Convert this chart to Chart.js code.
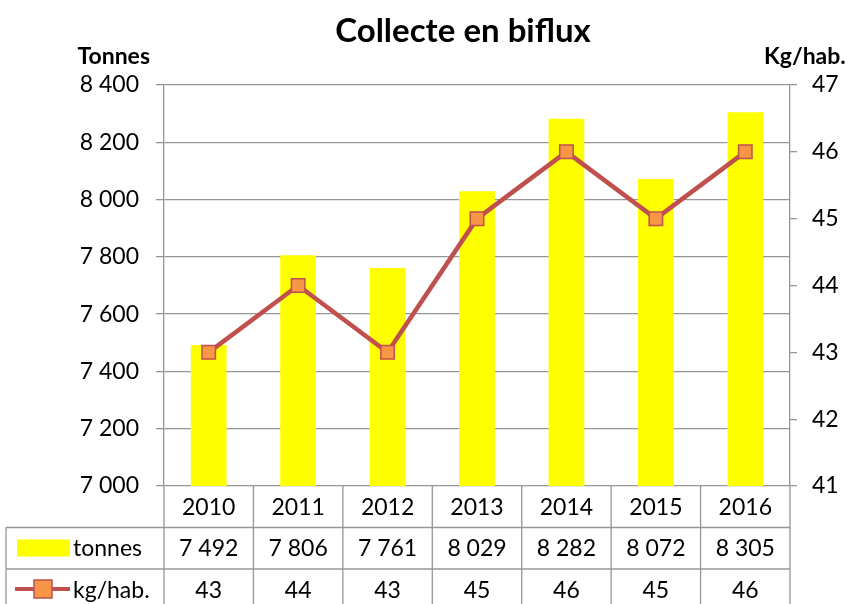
<!DOCTYPE html>
<html><head><meta charset="utf-8">
<script src="https://cdn.jsdelivr.net/npm/chart.js@4"></script>
<style>html,body{margin:0;padding:0;background:#fff}#wrap{width:852px;height:604px}</style>
</head><body><div id="wrap"><canvas id="c" width="852" height="604"></canvas></div>
<script>
const years = ['2010','2011','2012','2013','2014','2015','2016'];
const tonnes = [7492, 7806, 7761, 8029, 8282, 8072, 8305];
const kgHab = [43, 44, 43, 45, 46, 45, 46];
const chartTitle = 'Collecte en biflux';
const leftTitle = 'Tonnes';
const rightTitle = 'Kg/hab.';
const seriesNames = ['tonnes', 'kg/hab.'];

const FONT = 'Lato, "Open Sans", sans-serif';
const fmt = v => String(v).replace(/\B(?=(\d{3})+(?!\d))/g, ' ');
const GRID = '#969696';
const LINE = '#C0504D';
const MARK = '#F79646';
const BAR = '#FFFF00';

const tablePlugin = {
  id: 'tbl',
  afterDraw(chart) {
    const ctx = chart.ctx, ca = chart.chartArea, x = chart.scales.x;
    const rowH = 41.5;
    const top = ca.bottom, r1 = top + rowH, r2 = r1 + rowH, bot = 604;
    const leftEdge = 6;
    const n = years.length;
    const cw = (ca.right - ca.left) / n;
    ctx.save();
    ctx.strokeStyle = GRID; ctx.lineWidth = 1.3;
    ctx.beginPath();
    ctx.moveTo(leftEdge, r1); ctx.lineTo(ca.right, r1);
    ctx.moveTo(leftEdge, r2); ctx.lineTo(ca.right, r2);
    for (let i = 0; i <= n; i++) {
      const xx = ca.left + i * cw;
      ctx.moveTo(xx, top); ctx.lineTo(xx, bot);
    }
    ctx.moveTo(leftEdge, r1); ctx.lineTo(leftEdge, bot);
    ctx.stroke();
    ctx.fillStyle = '#000';
    ctx.font = '23px ' + FONT;
    ctx.textAlign = 'center'; ctx.textBaseline = 'middle';
    for (let i = 0; i < n; i++) {
      const cx = x.getPixelForValue(i);
      ctx.fillText(years[i], cx, 508);
      ctx.fillText(fmt(tonnes[i]), cx, 549);
      ctx.fillText(String(kgHab[i]), cx, 591);
    }
    ctx.fillStyle = BAR;
    ctx.fillRect(17, r1 + 12, 53, 17);
    ctx.fillStyle = '#000';
    ctx.textAlign = 'left';
    ctx.fillText(seriesNames[0], 73, 549);
    ctx.fillText(seriesNames[1], 73, 591);
    const ly = 589;
    ctx.strokeStyle = LINE; ctx.lineWidth = 4;
    ctx.beginPath(); ctx.moveTo(15, ly); ctx.lineTo(70, ly); ctx.stroke();
    ctx.fillStyle = MARK; ctx.lineWidth = 1.5;
    ctx.fillRect(34, ly - 9, 18, 18); ctx.strokeRect(34, ly - 9, 18, 18);
    ctx.fillStyle = '#000';
    ctx.textAlign = 'center';
    ctx.font = 'bold 33px ' + FONT;
    ctx.fillText(chartTitle, 463, 31);
    ctx.font = 'bold 23px ' + FONT;
    ctx.textAlign = 'right';
    ctx.fillText(leftTitle, 150, 57);
    ctx.textAlign = 'left';
    ctx.fillText(rightTitle, 764, 57);
    ctx.restore();
  }
};

new Chart(document.getElementById('c'), {
  type: 'bar',
  data: {
    labels: years,
    datasets: [
      { type: 'line', label: seriesNames[1], data: kgHab, yAxisID: 'y2', order: 0,
        borderColor: LINE, borderWidth: 4.5, backgroundColor: MARK,
        pointStyle: 'rect', pointRadius: 9.5, pointBorderColor: LINE, pointBorderWidth: 1.5,
        pointBackgroundColor: MARK, tension: 0 },
      { type: 'bar', label: seriesNames[0], data: tonnes, yAxisID: 'y', order: 1,
        backgroundColor: BAR, barPercentage: 0.4, categoryPercentage: 1.0 }
    ]
  },
  options: {
    responsive: false, animation: false,
    layout: { padding: { top: 85, bottom: 118, left: 0, right: 0 } },
    plugins: { legend: { display: false }, tooltip: { enabled: false } },
    scales: {
      x: { display: false, offset: true },
      y: {
        position: 'left', min: 7000, max: 8400,
        afterFit(s) { s.width = 164; },
        ticks: { stepSize: 200, color: '#000', font: { family: FONT, size: 23 }, padding: 17, callback: v => fmt(v) },
        grid: { color: GRID, lineWidth: 1.3, tickLength: 8, drawTicks: true },
        border: { color: GRID, width: 1.3 }
      },
      y2: {
        position: 'right', min: 41, max: 47,
        afterFit(s) { s.width = 62; },
        ticks: { stepSize: 1, color: '#000', font: { family: FONT, size: 23 }, padding: 15 },
        grid: { drawOnChartArea: false, color: GRID, lineWidth: 1.3, tickLength: 7 },
        border: { color: GRID, width: 1.3 }
      }
    }
  },
  plugins: [tablePlugin]
});
</script></body></html>
